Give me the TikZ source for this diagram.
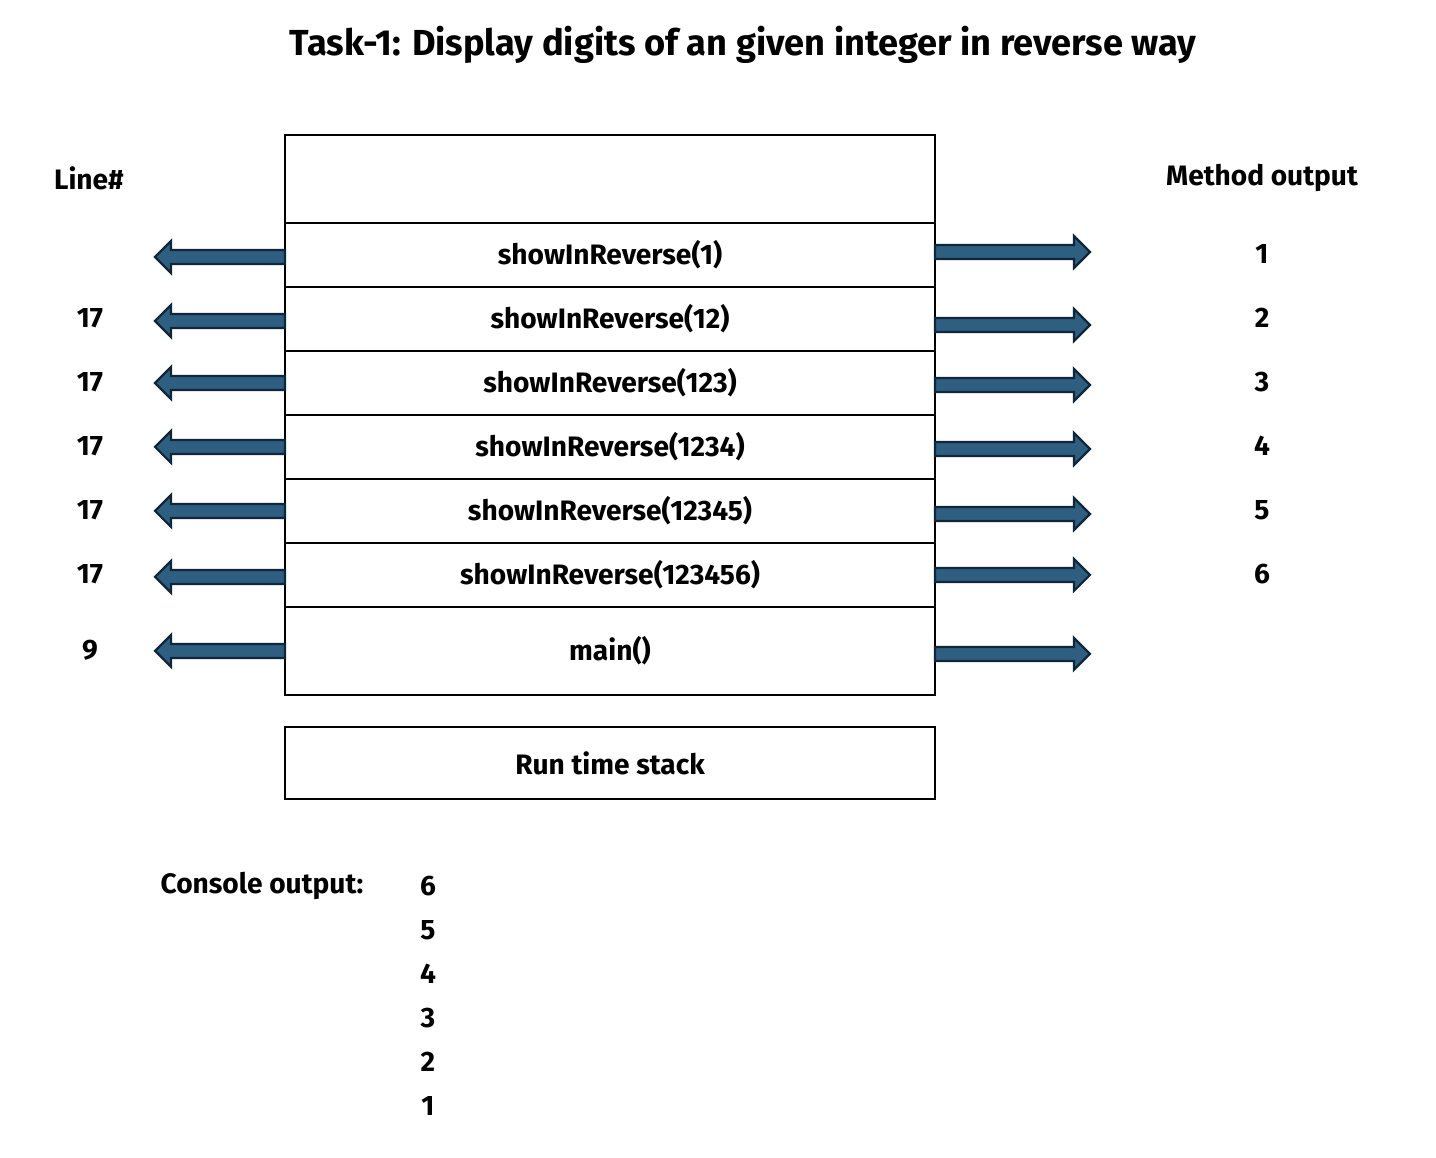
\documentclass[tikz,border=0pt]{standalone}
\usepackage{fontspec}
\setmainfont{Fira Sans}
\usetikzlibrary{positioning}

\definecolor{arrowblue}{HTML}{2E5F80}
\definecolor{arrowedge}{HTML}{10263A}

\tikzset{
  frame/.style={draw, line width=1.1pt, minimum width=13cm, minimum height=1.28cm,
    inner sep=0pt, outer sep=0pt, font=\bfseries\fontsize{16}{19}\selectfont},
  lbl/.style={font=\bfseries\fontsize{16}{19}\selectfont},
  arrowbody/.style={draw=arrowedge, fill=arrowblue, line width=1.3pt, line join=miter},
  larrow/.pic={\draw[arrowbody] (0,7) -- (-114,7) -- (-114,16) -- (-130,0)
    -- (-114,-16) -- (-114,-7) -- (0,-7) -- cycle;},
  rarrow/.pic={\draw[arrowbody] (0,7) -- (139,7) -- (139,16) -- (155,0)
    -- (139,-16) -- (139,-7) -- (0,-7) -- cycle;}
}

\begin{document}
\begin{tikzpicture}[x=0.02cm,y=-0.02cm]
  \useasboundingbox (0,0) rectangle (1436,1158);

  % Title
  \node[font=\bfseries\fontsize{20.6}{24}\selectfont] (title) at (743,45)
    {Task-1: Display digits of an given integer in reverse way};

  % Column heads
  \node[lbl] (line) at (89,178) {Line\#};
  \node[lbl] (mout) at (1262,178) {Method output};

  % Run time stack
  \node[frame, minimum height=1.76cm] (f0) at (610,179) {};
  \node[frame, below=0pt of f0] (f1) {showInReverse(1)};
  \node[frame, below=0pt of f1] (f2) {showInReverse(12)};
  \node[frame, below=0pt of f2] (f3) {showInReverse(123)};
  \node[frame, below=0pt of f3] (f4) {showInReverse(1234)};
  \node[frame, below=0pt of f4] (f5) {showInReverse(12345)};
  \node[frame, below=0pt of f5] (f6) {showInReverse(123456)};
  \node[frame, minimum height=1.76cm, below=0pt of f6] (fmain) {main()};
  \node[frame, minimum height=1.44cm, below=0.64cm of fmain] (rts) {Run time stack};

  % Return lines
  \node[lbl] (l2) at (90,318) {17};
  \node[lbl] (l3) at (90,382) {17};
  \node[lbl] (l4) at (90,446) {17};
  \node[lbl] (l5) at (90,510) {17};
  \node[lbl] (l6) at (90,574) {17};
  \node[lbl] (lmain) at (90,650) {9};

  % Method outputs
  \node[lbl] (o1) at (1262,254) {1};
  \node[lbl] (o2) at (1262,318) {2};
  \node[lbl] (o3) at (1262,382) {3};
  \node[lbl] (o4) at (1262,446) {4};
  \node[lbl] (o5) at (1262,510) {5};
  \node[lbl] (o6) at (1262,574) {6};

  % Block arrows
  \pic at ([yshift=-0.04cm]f1.west) {larrow};
  \pic at ([yshift=-0.04cm]f2.west) {larrow};
  \pic at (f3.west) {larrow};
  \pic at (f4.west) {larrow};
  \pic at (f5.west) {larrow};
  \pic at ([yshift=-0.04cm]f6.west) {larrow};
  \pic at (fmain.west) {larrow};
  \pic at ([yshift=0.06cm]f1.east) {rarrow};
  \pic at ([yshift=-0.12cm]f2.east) {rarrow};
  \pic at ([yshift=-0.04cm]f3.east) {rarrow};
  \pic at ([yshift=-0.04cm]f4.east) {rarrow};
  \pic at ([yshift=-0.06cm]f5.east) {rarrow};
  \pic at (f6.east) {rarrow};
  \pic at ([yshift=-0.06cm]fmain.east) {rarrow};

  % Console output
  \node[lbl] (cons) at (262,886) {Console output:};
  \node[lbl] (c6) at (428,886) {6};
  \node[lbl] (c5) at (428,930) {5};
  \node[lbl] (c4) at (428,974) {4};
  \node[lbl] (c3) at (428,1018) {3};
  \node[lbl] (c2) at (428,1062) {2};
  \node[lbl] (c1) at (428,1106) {1};
\end{tikzpicture}
\end{document}
